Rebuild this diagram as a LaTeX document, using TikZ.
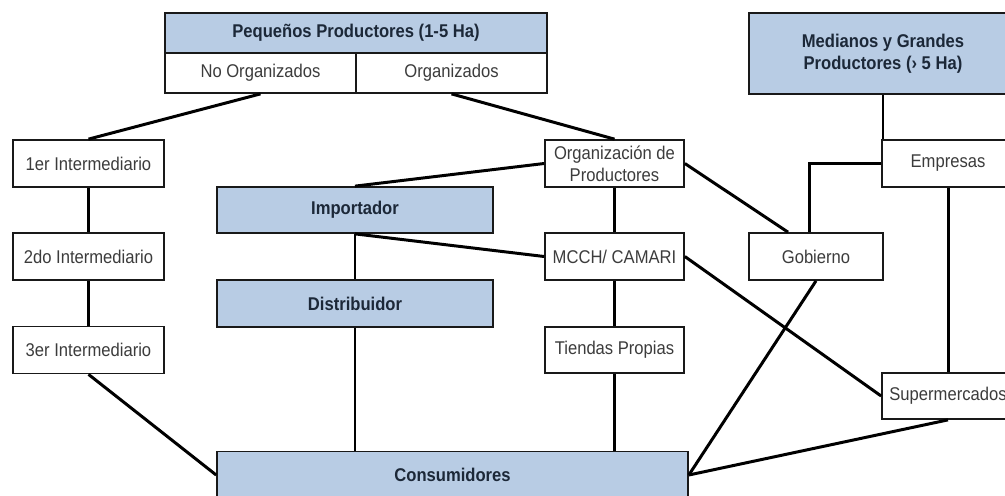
\documentclass[tikz,border=0pt]{standalone}
\usepackage{fontspec}
\setmainfont{Liberation Sans}[FakeStretch=0.9]
\definecolor{boxblue}{RGB}{184, 204, 228}
\definecolor{edgegray}{RGB}{25, 25, 25}
\definecolor{textgray}{RGB}{60, 60, 60}
\definecolor{headnavy}{RGB}{28, 40, 56}
\usepackage{tikz}

\begin{document}
\begin{tikzpicture}[x=0.02cm, y=-0.02cm,
    plainbox/.style={draw=edgegray, line width=1pt, fill=white, text=textgray,
      font=\fontsize{10.5}{12.5}\selectfont, align=center, inner sep=2pt},
    bluebox/.style={plainbox, fill=boxblue, text=headnavy,
      font=\fontsize{10.5}{12.5}\selectfont\bfseries},
    link/.style={line width=1.7pt, black}]
  \useasboundingbox (0,0) rectangle (1005,495);

  % Producers
  \node[bluebox, minimum width=7.64cm, minimum height=0.8cm] (peq) at (356, 33) {Pequeños Productores (1-5 Ha)};
  \node[plainbox, minimum width=3.82cm, minimum height=0.8cm] (noorg) at (260.5, 73) {No Organizados};
  \node[plainbox, minimum width=3.82cm, minimum height=0.8cm] (org) at (451.5, 73) {Organizados};
  \node[bluebox, minimum width=5.36cm, minimum height=1.62cm] (med) at (883, 53.5) {Medianos y Grandes\\Productores (› 5 Ha)};

  % Intermediaries
  \node[plainbox, minimum width=3.02cm, minimum height=0.94cm] (inter1) at (88.5, 163.5) {1er Intermediario};
  \node[plainbox, minimum width=3.02cm, minimum height=0.94cm] (inter2) at (88.5, 256.5) {2do Intermediario};
  \node[plainbox, minimum width=3.02cm, minimum height=0.94cm] (inter3) at (88.5, 350) {3er Intermediario};

  % Middle chain
  \node[bluebox, minimum width=5.52cm, minimum height=0.92cm] (importador) at (355, 210) {Importador};
  \node[bluebox, minimum width=5.52cm, minimum height=0.94cm] (distribuidor) at (355, 303.5) {Distribuidor};

  \node[plainbox, minimum width=2.78cm, minimum height=0.94cm] (orgprod) at (614.5, 163.5) {Organización de\\Productores};
  \node[plainbox, minimum width=2.78cm, minimum height=0.94cm] (mcch) at (614.5, 256.5) {MCCH/ CAMARI};
  \node[plainbox, minimum width=2.78cm, minimum height=0.92cm] (tiendas) at (614.5, 350) {Tiendas Propias};

  % Right side
  \node[plainbox, minimum width=2.64cm, minimum height=0.94cm] (empresas) at (948, 163.5) {Empresas};
  \node[plainbox, minimum width=2.68cm, minimum height=0.94cm] (gobierno) at (816, 256.5) {Gobierno};
  \node[plainbox, minimum width=2.64cm, minimum height=0.92cm] (super) at (948, 396) {Supermercados};

  \node[bluebox, minimum width=9.42cm, minimum height=0.94cm] (consum) at (452.5, 475) {Consumidores};

  % Links
  \draw[link] (noorg.south) -- (inter1.north);
  \draw[link] (org.south) -- (orgprod.north);
  \draw[link] (inter1.south) -- (inter2.north);
  \draw[link] (inter2.south) -- (inter3.north);
  \draw[link] (inter3.south) -- (consum.west);
  \draw[link] (orgprod.west) -- (importador.north);
  \draw[link] (orgprod.south) -- (mcch.north);
  \draw[link] (orgprod.east) -- ([xshift=-0.56cm]gobierno.north);
  \draw[link] (importador.south) -- (distribuidor.north);
  \draw[link] (importador.south) -- (mcch.west);
  \draw[link] (mcch.south) -- (tiendas.north);
  \draw[link] (mcch.east) -- (super.west);
  \draw[link] (distribuidor.south) -- (distribuidor.south |- consum.north);
  \draw[link] (tiendas.south) -- (tiendas.south |- consum.north);
  \draw[link] (med.south) -- (med.south |- empresas.north);
  \draw[link] (empresas.west) -| ([xshift=-0.14cm]gobierno.north);
  \draw[link] (empresas.south) -- (super.north);
  \draw[link] (gobierno.south) -- (consum.east);
  \draw[link] (super.south) -- (consum.east);
\end{tikzpicture}
\end{document}
